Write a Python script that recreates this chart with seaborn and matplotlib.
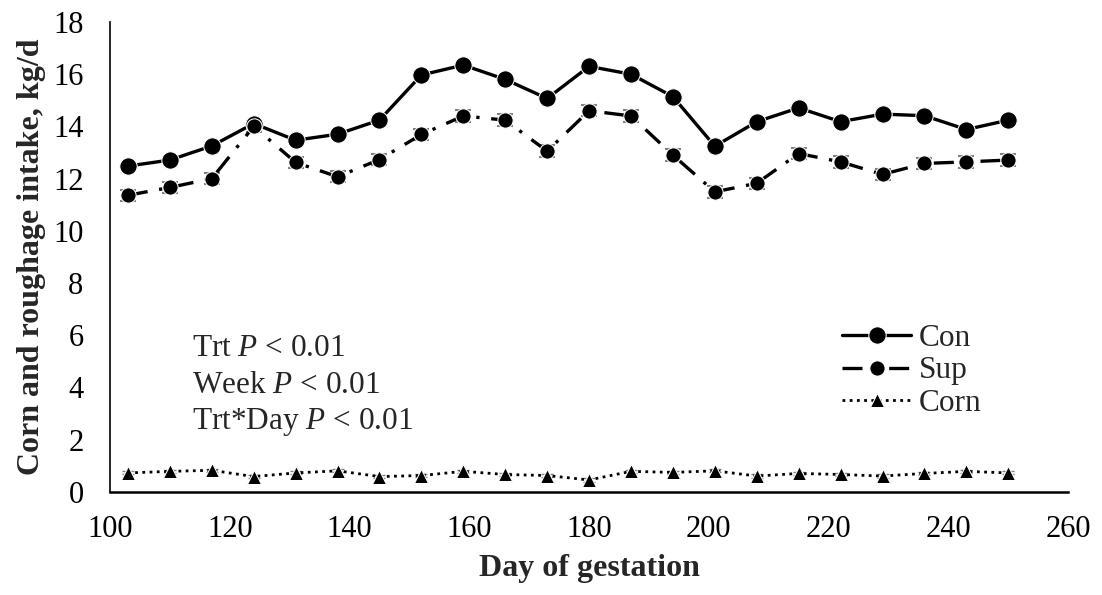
import numpy as np
import pandas as pd
import matplotlib
matplotlib.use("Agg")
import matplotlib.pyplot as plt
import seaborn as sns

days = [103, 110, 117, 124, 131, 138, 145, 152, 159, 166, 173,
        180, 187, 194, 201, 208, 215, 222, 229, 236, 243, 250]
con = [12.48, 12.71, 13.25, 14.11, 13.47, 13.70, 14.24, 15.97, 16.35, 15.80, 15.07,
       16.30, 16.00, 15.14, 13.24, 14.18, 14.71, 14.18, 14.47, 14.41, 13.88, 14.24]
sup = [11.36, 11.66, 12.00, 14.00, 12.62, 12.07, 12.73, 13.69, 14.40, 14.24, 13.05,
       14.60, 14.40, 12.90, 11.49, 11.82, 12.96, 12.64, 12.16, 12.58, 12.64, 12.71]
corn = [0.72, 0.78, 0.82, 0.58, 0.72, 0.80, 0.58, 0.62, 0.78, 0.66, 0.62,
        0.45, 0.78, 0.74, 0.80, 0.60, 0.70, 0.66, 0.60, 0.70, 0.78, 0.72]
con_se = [0.15] * 22
sup_se = [0.22] * 22
corn_se = [0.06] * 22

xticks = [100, 120, 140, 160, 180, 200, 220, 240, 260]
yticks = [0, 2, 4, 6, 8, 10, 12, 14, 16, 18]
stats = ["Trt $P$ < 0.01", "Week $P$ < 0.01", "Trt*Day $P$ < 0.01"]

sns.set_style("white")
plt.rcParams['font.family'] = ['Liberation Serif', 'DejaVu Serif']
plt.rcParams['mathtext.fontset'] = 'custom'
plt.rcParams['mathtext.rm'] = 'Liberation Serif'
plt.rcParams['mathtext.it'] = 'Liberation Serif:italic'

fig = plt.figure(figsize=(11.02, 5.95), dpi=100)
ax = fig.add_axes([0.0998, 0.1736, 0.8695, 0.7894])

grey = '#808080'
ax.errorbar(days, con, yerr=con_se, fmt='none', ecolor=grey, capsize=5, elinewidth=1, zorder=1)
ax.errorbar(days, sup, yerr=sup_se, fmt='none', ecolor=grey, capsize=6, elinewidth=1.2, capthick=1.5, zorder=1)
ax.errorbar(days, corn, yerr=corn_se, fmt='none', ecolor=grey, capsize=4, elinewidth=1, zorder=1)

sns.lineplot(x=days, y=con, ax=ax, color='black', marker='o', markersize=12.5,
             linewidth=2.4, linestyle='-', label='Con', zorder=3)
sns.lineplot(x=days, y=sup, ax=ax, color='black', marker='o', markersize=11,
             linewidth=2.4, linestyle=(0, (6, 3.5, 1, 3.5)), label='Sup', zorder=3)
sns.lineplot(x=days, y=corn, ax=ax, color='black', marker='^', markersize=10,
             linewidth=2.0, linestyle=(0, (1, 1.6)), label='Corn', zorder=3)

ax.set_xlim(100, 260)
ax.set_ylim(0, 18)
ax.set_xticks(xticks)
ax.set_yticks(yticks)
ax.tick_params(axis='x', length=0, labelsize=22, colors='black', pad=17)
ax.tick_params(axis='y', length=0, labelsize=22, colors='black', pad=19)
ax.set_xlabel("Day of gestation", fontsize=23, fontweight='bold', labelpad=7)
ax.set_ylabel("Corn and roughage intake, kg/d", fontsize=23, fontweight='bold', labelpad=5)

for s in ['top', 'right']:
    ax.spines[s].set_visible(False)
ax.spines['left'].set_color('black')
ax.spines['left'].set_linewidth(1.2)
ax.spines['bottom'].set_color('black')
ax.spines['bottom'].set_linewidth(1.8)

for i, t in enumerate(stats):
    ax.text(113.7, 5.5 - i * 1.42, t, fontsize=22.5, va='center', ha='left')

leg = ax.legend(loc='center left', bbox_to_anchor=(0.735, 0.257), frameon=False,
                fontsize=22.5, handlelength=2.2, handletextpad=0.25, labelspacing=0.1)

fig.savefig("out.png", dpi=100)
